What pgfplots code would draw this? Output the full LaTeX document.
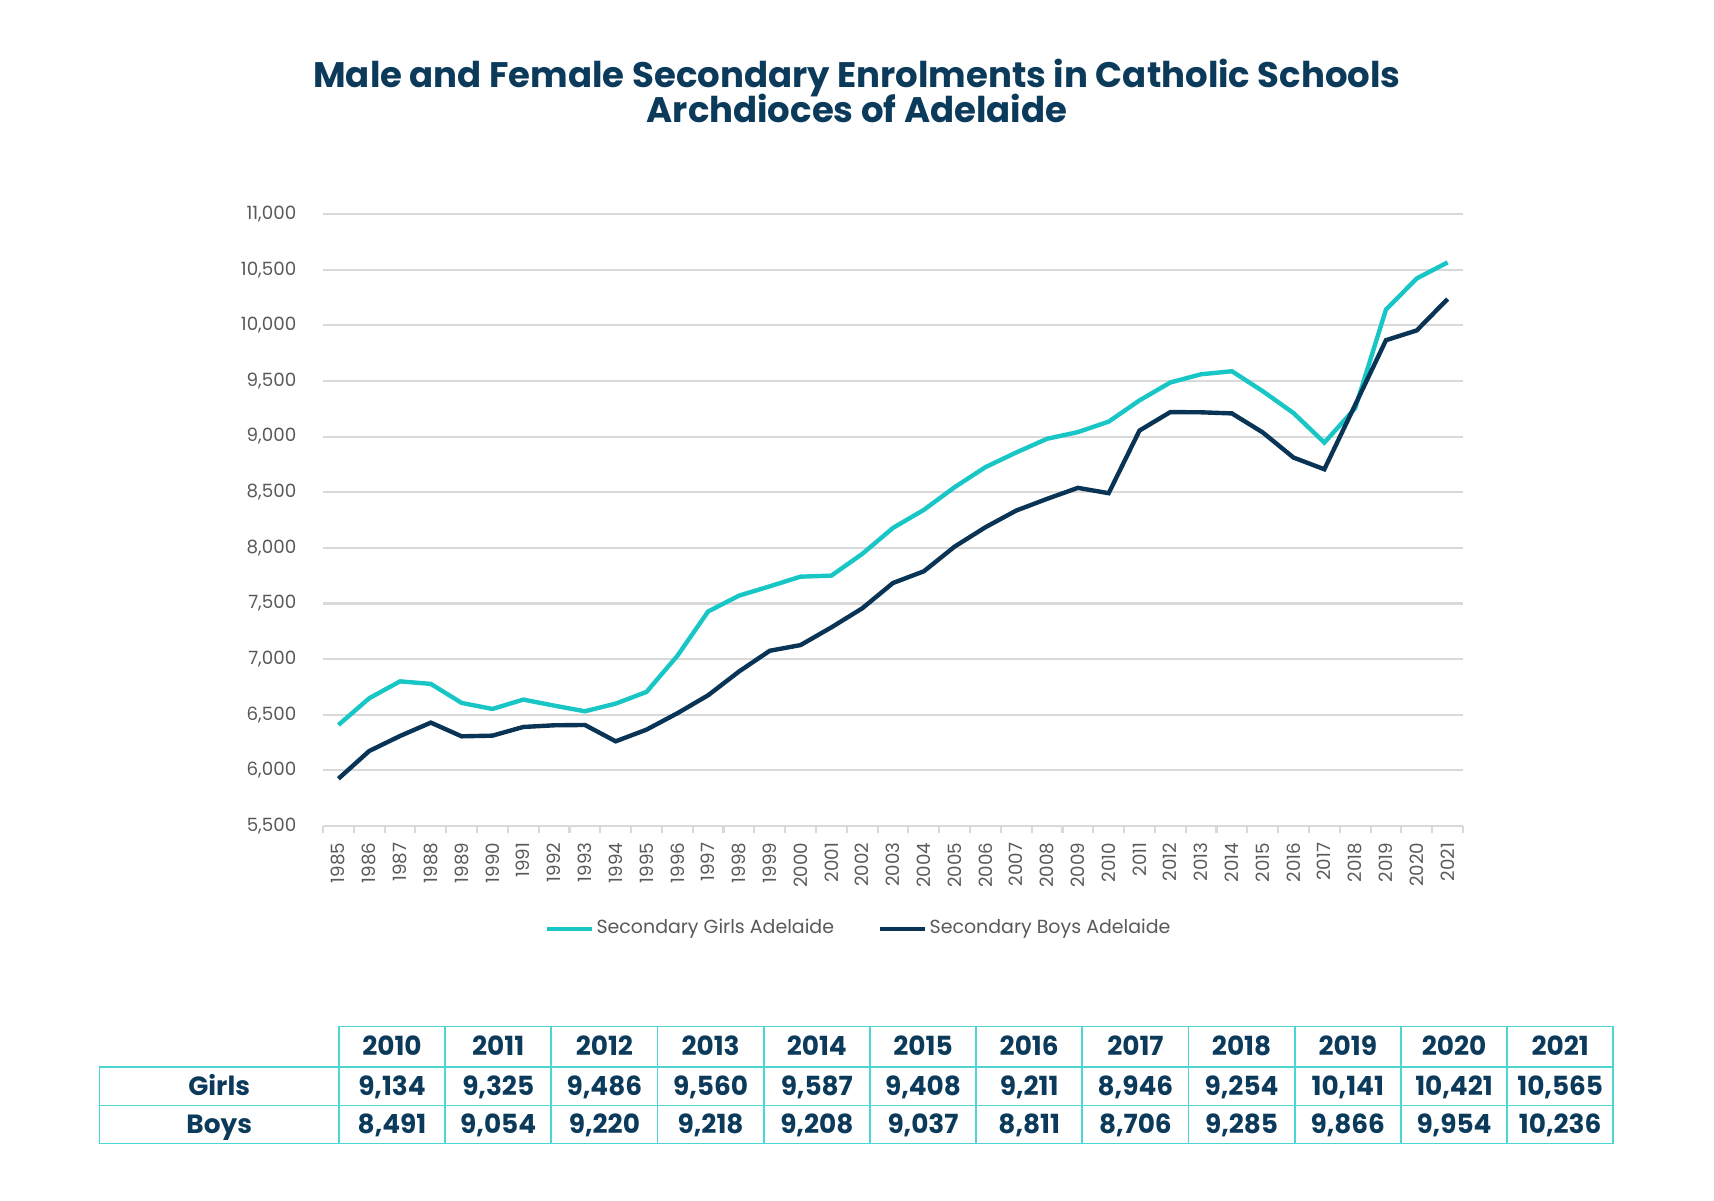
\documentclass[border=0pt]{standalone}
\usepackage{pgfplots}
\pgfplotsset{compat=1.18}
\usepackage{fontspec}
\setmainfont{Poppins}
\definecolor{navy}{HTML}{0B3A5B}
\definecolor{girls}{HTML}{19C6C6}
\definecolor{boys}{HTML}{0A3455}
\definecolor{tickgray}{HTML}{595959}
\definecolor{gridgray}{HTML}{D9D9D9}
\definecolor{tableline}{HTML}{4DD4D4}
\begin{document}
\begin{tikzpicture}
\path[use as bounding box] (0,0) rectangle (17.14,12);
\node[anchor=base, font=\fontsize{10.1}{12}\selectfont\bfseries, text=navy] at (8.57,11.125) {Male and Female Secondary Enrolments in Catholic Schools};
\node[anchor=base, font=\fontsize{10.1}{12}\selectfont\bfseries, text=navy] at (8.57,10.776) {Archdioces of Adelaide};
\begin{axis}[
  at={(3.23cm,3.74cm)}, anchor=south west,
  width=11.40cm, height=6.12cm, scale only axis,
  xmin=1984.5, xmax=2021.5, ymin=5500, ymax=11000,
  xtick={1985,...,2021}, ytick={5500,6000,...,11000},
  minor xtick={1984.5,1985.5,...,2021.5},
  scaled y ticks=false,
  ymajorgrids, major grid style={gridgray, line width=0.6pt},
  axis x line*=bottom, axis y line*=left,
  y axis line style={draw=none},
  x axis line style={-, gridgray, line width=0.6pt},
  major tick length=0pt, minor tick length=0.07cm, tick align=outside,
  minor tick style={gridgray, line width=0.6pt},
  /pgf/number format/assume math mode=true,
  y tick label style={/pgf/number format/fixed, /pgf/number format/1000 sep={,}, font=\fontsize{5.2}{6}\selectfont, text=tickgray, inner sep=0pt, xshift=-0.26cm},
  x tick label style={/pgf/number format/1000 sep={}, font=\fontsize{5.2}{6}\selectfont, text=tickgray, inner sep=0pt, yshift=-0.16cm, rotate=90, anchor=east},
  no markers,
  legend style={at={(0.47,-0.168)}, anchor=center, draw=none, fill=none, legend columns=2,
    font=\fontsize{5.4}{6.5}\selectfont, text=tickgray, nodes={inner xsep=0.6pt},
    /tikz/every even column/.append style={column sep=0.42cm}},
  legend image code/.code={\draw[#1, line width=1.25pt] (0cm,0cm) -- (0.45cm,0cm);},
  legend cell align=left,
]
\addplot[girls, line width=1.25pt] coordinates {
(1985,6408) (1986,6648) (1987,6800) (1988,6777) (1989,6606) (1990,6552) (1991,6636) (1992,6582) (1993,6531) (1994,6600) (1995,6705) (1996,7029) (1997,7428) (1998,7570) (1999,7654) (2000,7741) (2001,7750) (2002,7945) (2003,8179) (2004,8341) (2005,8545) (2006,8725) (2007,8857) (2008,8980) (2009,9040) (2010,9134) (2011,9325) (2012,9486) (2013,9560) (2014,9587) (2015,9408) (2016,9211) (2017,8946) (2018,9254) (2019,10141) (2020,10421) (2021,10565)};
\addlegendentry{Secondary Girls Adelaide}
\addplot[boys, line width=1.25pt] coordinates {
(1985,5925) (1986,6174) (1987,6309) (1988,6429) (1989,6306) (1990,6312) (1991,6390) (1992,6405) (1993,6408) (1994,6261) (1995,6366) (1996,6513) (1997,6675) (1998,6888) (1999,7075) (2000,7126) (2001,7285) (2002,7456) (2003,7684) (2004,7789) (2005,8011) (2006,8185) (2007,8335) (2008,8440) (2009,8539) (2010,8491) (2011,9054) (2012,9220) (2013,9218) (2014,9208) (2015,9037) (2016,8811) (2017,8706) (2018,9285) (2019,9866) (2020,9954) (2021,10236)};
\addlegendentry{Secondary Boys Adelaide}
\end{axis}
% table
\begin{scope}[tableline, line width=0.5pt]
\draw (3.389,1.736) rectangle (16.133,1.331);
\draw (0.995,1.331) rectangle (16.133,0.566);
\draw (0.995,0.945) -- (16.133,0.945);
\foreach \k in {1,...,11} \draw ({3.389+\k*1.062},1.736) -- ({3.389+\k*1.062},0.566);
\draw (3.389,1.736) -- (3.389,0.566);
\end{scope}
\begin{scope}[every node/.style={anchor=base, font=\fontsize{7.5}{8}\selectfont\bfseries, text=navy, inner sep=0pt}]
\node at (2.192,1.048) {Girls};
\node at (2.192,0.6655) {Boys};
\foreach \i/\yr/\g/\b in {0/2010/9134/8491, 1/2011/9325/9054, 2/2012/9486/9220, 3/2013/9560/9218, 4/2014/9587/9208, 5/2015/9408/9037, 6/2016/9211/8811, 7/2017/8946/8706, 8/2018/9254/9285, 9/2019/10141/9866, 10/2020/10421/9954, 11/2021/10565/10236} {
  \node at ({3.389+(\i+0.5)*1.062},1.4435) {\yr};
  \node at ({3.389+(\i+0.5)*1.062},1.048) {\pgfmathprintnumber[1000 sep={,}, assume math mode=true]{\g}};
  \node at ({3.389+(\i+0.5)*1.062},0.6655) {\pgfmathprintnumber[1000 sep={,}, assume math mode=true]{\b}};
}
\end{scope}
\end{tikzpicture}
\end{document}
